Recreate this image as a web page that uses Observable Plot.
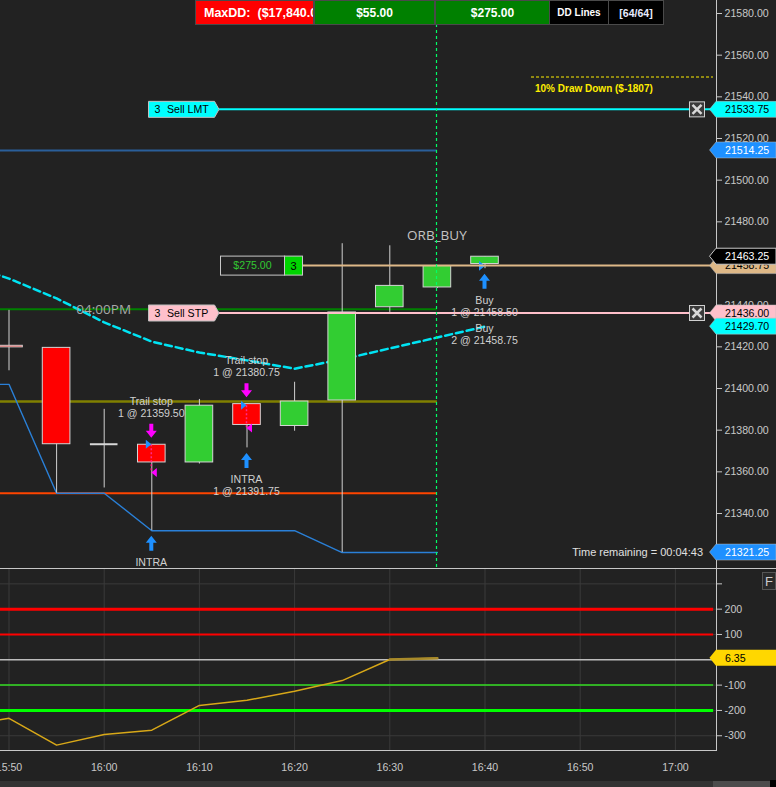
<!DOCTYPE html>
<html><head><meta charset="utf-8">
<script src="https://cdn.jsdelivr.net/npm/d3@7"></script>
<script src="https://cdn.jsdelivr.net/npm/@observablehq/plot@0.6"></script>
<style>
html,body{margin:0;padding:0;background:#222;}
#wrap{position:relative;width:776px;height:787px;overflow:hidden;background:#222;font-family:"Liberation Sans",Arial,sans-serif;}
#main,#sub{position:absolute;left:0;}
#main{top:0;} #sub{top:568px;}
.btn{position:absolute;top:0;height:25px;box-sizing:border-box;border:1px solid #4a4a4a;color:#fff;font-weight:bold;display:flex;align-items:center;justify-content:center;white-space:pre;overflow:hidden;}
</style></head>
<body><div id="wrap">
<div id="main"></div><div id="sub"></div>
<div class="btn" style="left:195px;width:119px;background:#ff0000;justify-content:flex-start;padding-left:8px;font-size:12.5px">MaxDD:  ($17,840.00)</div>
<div class="btn" style="left:314px;width:121px;background:#008000;font-size:12px">$55.00</div>
<div class="btn" style="left:435px;width:115px;background:#008000;font-size:12px">$275.00</div>
<div class="btn" style="left:549px;width:60px;background:#000;font-size:10px">DD Lines</div>
<div class="btn" style="left:608px;width:56px;background:#000;font-size:10.5px;color:#e8ecff">[64/64]</div>
<div style="position:absolute;left:762px;top:572px;width:14px;height:18px;box-sizing:border-box;border:1px solid #555;background:#2a2a2a;color:#ccc;font-size:13px;display:flex;align-items:center;justify-content:center">F</div>
<div style="position:absolute;left:0;top:781px;width:776px;height:6px;background:#333"></div>
<div style="position:absolute;left:713px;top:781px;width:57px;height:6px;background:#4c4c4c"></div>
<div style="position:absolute;left:770px;top:780px;width:6px;height:7px;background:#000"></div>
</div>
<script>
const FONT = '"Liberation Sans", Arial, sans-serif';
const toMin = s => { const [h, mm] = s.split(":").map(Number); return h * 60 + mm - (15 * 60 + 50); };
const fmtMin = m => { const t = 15 * 60 + 50 + m; return `${Math.floor(t / 60)}:${String(t % 60).padStart(2, "0")}`; };

// ---- 5-minute candles ----
const candleTime  = ["15:50","15:55","16:00","16:05","16:10","16:15","16:20","16:25","16:30","16:35","16:40"];
const candleOpen  = [21420.50,21419.50,21373.25,21373.00,21364.50,21392.50,21382.00,21394.25,21439.00,21448.50,21459.75];
const candleHigh  = [21437.50,21419.50,21390.00,21373.00,21394.75,21392.50,21403.00,21469.50,21468.50,21459.00,21463.25];
const candleLow   = [21408.50,21349.75,21352.25,21331.75,21363.75,21371.50,21379.50,21321.25,21436.50,21448.00,21457.50];
const candleClose = [21419.75,21373.25,21373.25,21364.50,21391.75,21382.50,21393.75,21436.50,21449.25,21458.75,21463.25];

// ---- indicator series (with 15:45 lead-in) ----
const seriesTime = ["15:45","15:50","15:55","16:00","16:05","16:10","16:15","16:20","16:25","16:30","16:35","16:40"];
const avgLine    = [21460.50,21452.75,21443.25,21431.75,21422.50,21417.25,21413.50,21409.50,21414.00,21419.25,21424.50,21429.70];
const trailLow   = [21402.00,21402.00,21349.75,21349.75,21331.75,21331.75,21331.75,21331.75,21321.25,21321.25,21321.25];
const oscValues  = [-262,-231,-337,-295,-278,-180,-160,-124,-82,1,6.35];

// ---- levels ----
const sessionHigh = 21514.25, sessionOpen = 21438.00, rangeMid = 21393.75, sessionLow = 21349.75;
const orderQty   = [3, 3];
const orderType  = ["Sell LMT", "Sell STP"];
const orderPrice = [21533.75, 21436.00];
const positionPrice = 21458.75, positionQty = 3, positionPnl = "$275.00";
const tagValues = [21533.75, 21514.25, 21458.75, 21463.25, 21436.00, 21429.70, 21321.25];
const priceTicks = [21340,21360,21380,21400,21420,21440,21460,21480,21500,21520,21540,21560,21580];
const timeTicks  = ["15:50","16:00","16:10","16:20","16:30","16:40","16:50","17:00"];
const oscTicks   = [300,200,100,-100,-200,-300];
const oscLevels  = [200,100,0,-100,-200];
const oscLast = 6.35;
const currentBar = "16:35";
const sessionMarkTime = "16:00", sessionMarkText = "04:00PM";
const orbText = "ORB_BUY", orbPrice = 21473.5;

// ---- trades ----
const sigTime  = ["16:05","16:05","16:15","16:15","16:40"];
const sigDir   = ["up","down","up","down","up"];
const sigPrice = [21331.75,21373.00,21371.50,21392.50,21457.50];
const sigText  = [["INTRA"],["Trail stop","1 @ 21359.50"],["INTRA","1 @ 21391.75"],["Trail stop","1 @ 21380.75"],["Buy","1 @ 21458.50","Buy","2 @ 21458.75"]];
const tradeTime  = ["16:05","16:15"];
const tradeEntry = [21373.00, 21391.75];
const tradeExit  = [21359.50, 21380.75];
const openFillTime = ["16:40","16:40"];
const openFillPrice = [21458.50, 21458.75];

// ---- geometry ----
const PX_MIN = 9.52, X_OFF = 8.5, PLOT_R = 716;
const X0 = -X_OFF / PX_MIN, X1 = (PLOT_R - X_OFF) / PX_MIN;
const YD = [21313.6, 21586.24];
const HW = 1.45;
const lastBarM = toMin(currentBar);

const candles = candleTime.map((t, i) => ({m: toMin(t), o: candleOpen[i], h: candleHigh[i], l: candleLow[i], c: candleClose[i]}));
const bodies = candles.filter(d => d.o !== d.c);
const dojis = candles.filter(d => d.o === d.c);
const avgData = seriesTime.map((t, i) => ({m: toMin(t), v: avgLine[i]}));
const trailData = trailLow.map((v, i) => ({m: toMin(seriesTime[i]), v}));
const oscData = oscValues.map((v, i) => ({m: toMin(seriesTime[i]), v}));

const fxM = d3.scaleLinear([X0, X1], [0, PLOT_R]);
const fyM = d3.scaleLinear(YD, [568, 0]);

function txt(g, x, y, s, opts = {}) {
  return g.append("text").attr("x", x).attr("y", y).attr("dy", "0.36em")
    .attr("text-anchor", opts.anchor || "start").attr("fill", opts.fill || "#d0d0d0")
    .attr("font-size", opts.size || "10.6px").attr("font-weight", opts.weight || "normal")
    .attr("font-family", opts.family || FONT).text(s);
}
function tag(g, y, text, fill, color, stroke) {
  g.append("path").attr("d", `M709.5,${y} L716,${y - 8} L776,${y - 8} L776,${y + 8} L716,${y + 8} Z`)
    .attr("fill", fill).attr("stroke", stroke || "rgba(190,190,190,0.5)").attr("stroke-width", 1);
  txt(g, 725, y, text, {fill: color});
}

function mainOverlay(index, scales) {
  const sx = scales && typeof scales.x === "function" ? scales.x : fxM;
  const sy = scales && typeof scales.y === "function" ? scales.y : fyM;
  const g = d3.create("svg:g").attr("font-family", FONT).attr("text-anchor", "start");
  g.append("line").attr("x1", 716.5).attr("x2", 716.5).attr("y1", 0).attr("y2", 568).attr("stroke", "#c8c8c8");

  // trades: dotted links + execution markers
  tradeTime.forEach((t, i) => {
    const x = sx(toMin(t));
    const ye = sy(tradeEntry[i]), yx = sy(tradeExit[i]);
    g.append("line").attr("x1", x).attr("x2", x).attr("y1", ye).attr("y2", yx)
      .attr("stroke", "#ff2a8a").attr("stroke-width", 1.5).attr("stroke-dasharray", "2,2");
    g.append("path").attr("d", `M${x},${ye} L${x - 5.5},${ye - 4.5} L${x - 5.5},${ye + 4.5} Z`).attr("fill", "#1e90ff");
    g.append("path").attr("d", `M${x},${yx} L${x + 5.5},${yx - 4.5} L${x + 5.5},${yx + 4.5} Z`).attr("fill", "#ff00ff");
  });
  openFillTime.forEach((t, i) => {
    const x = sx(toMin(t)), y = sy(openFillPrice[i]);
    g.append("path").attr("d", `M${x},${y} L${x - 5.5},${y - 4.5} L${x - 5.5},${y + 4.5} Z`).attr("fill", "#1e90ff");
  });

  // signal arrows and texts
  sigTime.forEach((t, i) => {
    const x = sx(toMin(t));
    const lines = sigText[i];
    if (sigDir[i] === "up") {
      const top = sy(sigPrice[i]) + 5.5, bot = top + 15;
      g.append("path").attr("d", `M${x},${top} L${x + 5.5},${top + 7} L${x + 2},${top + 7} L${x + 2},${bot} L${x - 2},${bot} L${x - 2},${top + 7} L${x - 5.5},${top + 7} Z`).attr("fill", "#1e90ff");
      lines.forEach((s, k) => txt(g, x, bot + 11.5 + k * 12 + Math.floor(k / 2) * 4, s, {anchor: "middle"}));
    } else {
      const bot = sy(sigPrice[i]) - 6.5, top = bot - 14;
      g.append("path").attr("d", `M${x},${bot} L${x + 5.5},${bot - 7} L${x + 2},${bot - 7} L${x + 2},${top} L${x - 2},${top} L${x - 2},${bot - 7} L${x - 5.5},${bot - 7} Z`).attr("fill", "#ff00ff");
      const n = lines.length;
      lines.forEach((s, k) => txt(g, x, top - 11 - (n - 1 - k) * 12, s, {anchor: "middle"}));
    }
  });

  // position line + box
  {
    const y = sy(positionPrice);
    g.append("line").attr("x1", 302).attr("x2", 716).attr("y1", y).attr("y2", y).attr("stroke", "#deb887").attr("stroke-width", 2);
    g.append("rect").attr("x", 220.5).attr("y", y - 9.5).attr("width", 64).attr("height", 19).attr("fill", "#222").attr("stroke", "#c8c8c8");
    txt(g, 252.5, y, positionPnl, {anchor: "middle", fill: "#32c832"});
    g.append("rect").attr("x", 284.5).attr("y", y - 9.5).attr("width", 18).attr("height", 19).attr("fill", "#00d400").attr("stroke", "#c8c8c8");
    txt(g, 293.5, y, String(positionQty), {anchor: "middle", fill: "#000", size: "11px"});
  }

  // working orders
  const orderFill = {"Sell LMT": "#00ffff", "Sell STP": "#ffc0cb"};
  orderType.forEach((o, i) => {
    const y = sy(orderPrice[i]), f = orderFill[o];
    g.append("line").attr("x1", 219).attr("x2", 716).attr("y1", y).attr("y2", y).attr("stroke", f).attr("stroke-width", 2);
    g.append("path").attr("d", `M148.5,${y - 8} H214.5 L219,${y} L214.5,${y + 8} H148.5 Z`).attr("fill", f).attr("stroke", "#c0c0c0");
    txt(g, 154.5, y, String(orderQty[i]), {fill: "#000"});
    txt(g, 167, y, o, {fill: "#000"});
    g.append("rect").attr("x", 689.5).attr("y", y - 7.5).attr("width", 15).attr("height", 15).attr("fill", "#3a3a3a").attr("stroke", "#d0d0d0");
    g.append("path").attr("d", `M692.5,${y - 4.5} L701.5,${y + 4.5} M701.5,${y - 4.5} L692.5,${y + 4.5}`).attr("stroke", "#d8d8d8").attr("stroke-width", 2.5);
  });

  // texts
  const segoe = '"Open Sans", "Noto Sans", sans-serif';
  txt(g, sx(toMin(sessionMarkTime)), sy(sessionOpen), sessionMarkText, {anchor: "middle", fill: "#a8a8a8", family: segoe, size: "13.5px"});
  txt(g, sx(lastBarM), sy(orbPrice), orbText, {anchor: "middle", fill: "#c4c4c4", family: segoe, size: "13.5px"});
  txt(g, 703, 552, "Time remaining = 00:04:43", {anchor: "end", fill: "#e0e0e0", size: "11px"});
  g.append("line").attr("x1", 531).attr("x2", 713).attr("y1", 77).attr("y2", 77).attr("stroke", "#ffee00").attr("stroke-dasharray", "3,2");
  txt(g, 535, 88, "10% Draw Down ($-1807)", {fill: "#ffee00", weight: "bold", size: "10px"});

  // price tags
  const tagStyle = {
    "21533.75": ["#00ffff", "#000"], "21514.25": ["#1e90ff", "#fff"], "21458.75": ["#deb887", "#000"],
    "21463.25": ["#000", "#fff", "#c8c8c8"], "21436.00": ["#ffc0cb", "#000"], "21429.70": ["#00ffff", "#000"], "21321.25": ["#1e90ff", "#fff"]
  };
  tagValues.forEach(v => { const s = tagStyle[v.toFixed(2)]; tag(g, sy(v), v.toFixed(2), s[0], s[1], s[2]); });
  return g.node();
}

const main = Plot.plot({
  width: 776, height: 568, marginLeft: 0, marginRight: 60, marginTop: 0, marginBottom: 0,
  style: {background: "transparent", color: "#c8c8c8", fontSize: "10.6px", fontFamily: FONT},
  x: {type: "linear", domain: [X0, X1], axis: null},
  y: {type: "linear", domain: YD, axis: "right", ticks: priceTicks, tickFormat: d => d.toFixed(2), tickSize: 5, tickPadding: 3, label: null},
  marks: [
    Plot.ruleY([sessionHigh], {x1: () => X0, x2: () => lastBarM, stroke: "#2a5f9a", strokeWidth: 2}),
    Plot.ruleY([sessionOpen], {x1: () => X0, x2: () => lastBarM, stroke: "#008000", strokeWidth: 2}),
    Plot.ruleY([rangeMid], {x1: () => X0, x2: () => lastBarM, stroke: "#808000", strokeWidth: 2.5}),
    Plot.ruleY([sessionLow], {x1: () => X0, x2: () => lastBarM, stroke: "#ff4500", strokeWidth: 2}),
    Plot.line(trailData, {x: "m", y: "v", stroke: "#2a80d8", strokeWidth: 1.4}),
    Plot.line(avgData, {x: "m", y: "v", stroke: "#00e4f4", strokeWidth: 2.5, strokeDasharray: "7,4"}),
    Plot.ruleX(candles, {x: "m", y1: "l", y2: "h", stroke: "#d0d0d0", strokeWidth: 1}),
    Plot.rect(bodies, {x1: d => d.m - HW, x2: d => d.m + HW, y1: "o", y2: "c", fill: d => d.c > d.o ? "#32cd32" : "#ff0000", stroke: "#d4d4d4", strokeWidth: 1}),
    Plot.ruleY(dojis, {y: "o", x1: d => d.m - HW, x2: d => d.m + HW, stroke: "#d8d8d8", strokeWidth: 2}),
    mainOverlay,
    Plot.ruleX([lastBarM], {stroke: "#00ff66", strokeWidth: 1.2, strokeDasharray: "3,3", dx: -0.9})
  ]
});
document.getElementById("main").appendChild(main);

// ---- lower oscillator panel ----
const OD = [-358.2, 360.6];
const fyS = d3.scaleLinear(OD, [182, 0]);
function subOverlay(index, scales) {
  const sy = scales && typeof scales.y === "function" ? scales.y : fyS;
  const g = d3.create("svg:g").attr("font-family", FONT).attr("text-anchor", "start");
  g.append("line").attr("x1", 0).attr("x2", 776).attr("y1", 0.5).attr("y2", 0.5).attr("stroke", "#c8c8c8");
  g.append("line").attr("x1", 0).attr("x2", 716).attr("y1", 182.5).attr("y2", 182.5).attr("stroke", "#c8c8c8");
  g.append("line").attr("x1", 716.5).attr("x2", 716.5).attr("y1", 0).attr("y2", 183).attr("stroke", "#c8c8c8");
  tag(g, sy(oscLast), String(oscLast), "#ffd700", "#000", "none");
  return g.node();
}
const lvlStyle = {"200": ["#ff0000", 3], "100": ["#ff0000", 2], "0": ["#bdbdbd", 1.5], "-100": ["#33dd22", 1.5], "-200": ["#00ff00", 3]};
const sub = Plot.plot({
  width: 776, height: 219, marginLeft: 0, marginRight: 60, marginTop: 0, marginBottom: 37,
  style: {background: "transparent", color: "#c8c8c8", fontSize: "10.6px", fontFamily: FONT},
  x: {type: "linear", domain: [X0, X1], ticks: timeTicks.map(toMin), tickFormat: fmtMin, tickSize: 0, tickPadding: 13, label: null},
  y: {type: "linear", domain: OD, axis: "right", ticks: oscTicks, tickFormat: d => d === 300 ? "" : String(d), tickSize: 5, tickPadding: 3, label: null},
  marks: [
    Plot.ruleX(timeTicks.map(toMin), {stroke: "#3a3a3a"}),
    Plot.ruleY(oscTicks, {stroke: "#3a3a3a"}),
    ...oscLevels.map(v => Plot.ruleY([v], {x1: () => X0, x2: () => X1 - 0.3, stroke: lvlStyle[String(v)][0], strokeWidth: lvlStyle[String(v)][1]})),
    Plot.line(oscData, {x: "m", y: "v", stroke: "#d8a818", strokeWidth: 1.5}),
    Plot.line(oscData.slice(-2), {x: "m", y: "v", stroke: "#a88a2a", strokeWidth: 2.5}),
    subOverlay
  ]
});
document.getElementById("sub").appendChild(sub);
</script>
</body></html>
